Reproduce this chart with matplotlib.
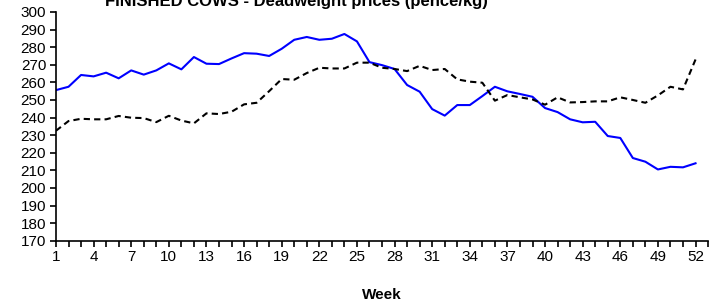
import numpy as np
import matplotlib
matplotlib.use("Agg")
import matplotlib.pyplot as plt

plt.rcParams['font.family'] = ['Liberation Sans', 'DejaVu Sans']

# Тижні та ціни (pence/kg)
weeks = np.arange(1, 53)
prices_current = [
    255.6, 257.5, 264.2, 263.4, 265.5, 262.3, 266.8, 264.4, 266.8, 270.8,
    267.4, 274.4, 270.6, 270.4, 273.6, 276.6, 276.3, 275.0, 279.1, 284.2,
    285.8, 284.2, 284.8, 287.5, 283.3, 271.5, 269.8, 267.6, 258.5, 254.7,
    244.8, 241.1, 247.1, 247.1, 252.2, 257.5, 254.9, 253.4, 251.8, 245.4,
    243.1, 239.0, 237.3, 237.6, 229.5, 228.4, 217.0, 214.9, 210.5, 212.0,
    211.7, 214.0,
]
prices_previous = [
    232.5, 238.0, 239.3, 239.0, 239.0, 240.9, 239.9, 239.7, 237.4, 241.0,
    238.3, 236.7, 242.4, 242.0, 243.3, 247.5, 248.4, 255.0, 261.9, 261.5,
    265.3, 268.3, 267.9, 267.9, 271.2, 271.2, 268.3, 267.6, 266.4, 269.4,
    267.0, 267.6, 261.7, 260.4, 259.8, 249.6, 252.8, 251.5, 250.3, 247.3,
    251.5, 248.6, 248.8, 249.2, 249.2, 251.5, 250.0, 248.4, 252.6, 257.5,
    256.0, 273.0,
]
week_labels = list(range(1, 53, 3))
y_ticks = list(range(170, 301, 10))

fig = plt.figure(figsize=(7.24, 3.06), dpi=100)
ax = fig.add_axes([0.0773, 0.2134, 0.9007, 0.7474])

ax.plot(weeks, prices_current, '-', color='#0000FF', linewidth=1.5)
ax.plot(weeks, prices_previous, '--', color='black', linewidth=1.5, dashes=(3, 2))

ax.set_xlim(1, 53)
ax.set_ylim(170, 300)
ax.set_xticks(np.arange(1, 54))
ax.set_xticklabels([str(w) if w in week_labels else '' for w in range(1, 54)])
ax.set_yticks(y_ticks)

for side in ['top', 'right']:
    ax.spines[side].set_visible(False)
for side in ['left', 'bottom']:
    ax.spines[side].set_linewidth(1.2)
ax.tick_params(axis='both', direction='out', length=4, width=1.2, labelsize=11, pad=3)

ax.set_xlabel('Week', fontsize=11, fontweight='bold', labelpad=17)

# заголовок частково обрізаний верхнім краєм, як в оригіналі
fig.text(296 / 724, 1 - 6 / 306, 'FINISHED COWS - Deadweight prices (pence/kg)',
         ha='center', va='baseline', fontsize=12, fontweight='bold')

fig.savefig('out.png', dpi=100)
